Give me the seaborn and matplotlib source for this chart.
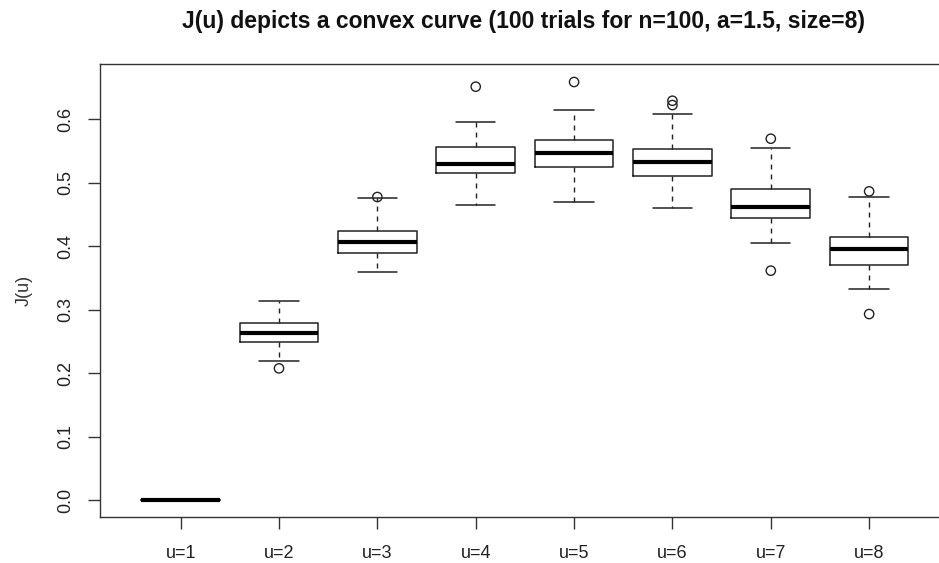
import numpy as np
import pandas as pd
import matplotlib
matplotlib.use("Agg")
import matplotlib.pyplot as plt
import seaborn as sns

# ---- data (box statistics per u) ----
categories = ["u=1", "u=2", "u=3", "u=4", "u=5", "u=6", "u=7", "u=8"]
whisker_lo = [0.0, 0.2189, 0.3596, 0.4651, 0.4688, 0.4598, 0.4047, 0.3323]
q1         = [0.0, 0.2493, 0.3895, 0.5144, 0.5239, 0.5108, 0.4446, 0.3706]
median     = [0.0, 0.2625, 0.4063, 0.5296, 0.5470, 0.5318, 0.4614, 0.3953]
q3         = [0.0, 0.2782, 0.4236, 0.5559, 0.5675, 0.5522, 0.4903, 0.4142]
whisker_hi = [0.0, 0.3139, 0.4751, 0.5958, 0.6147, 0.6073, 0.5538, 0.4772]
outliers = {
    "u=1": [],
    "u=2": [0.2074],
    "u=3": [0.4772],
    "u=4": [0.6509],
    "u=5": [0.6583],
    "u=6": [0.6288, 0.6220],
    "u=7": [0.5690, 0.3612],
    "u=8": [0.4861, 0.2929],
}
yticks = [0.0, 0.1, 0.2, 0.3, 0.4, 0.5, 0.6]

sns.set_style("white")
plt.rcParams["font.family"] = ["Liberation Sans", "DejaVu Sans"]

fig = plt.figure(figsize=(9.39, 5.63), dpi=100)
ax = fig.add_axes([0.1065, 0.082, 0.905, 0.8036])

positions = np.arange(1, len(categories) + 1)
stats = []
for i, c in enumerate(categories):
    stats.append(dict(label=c, whislo=whisker_lo[i], q1=q1[i], med=median[i],
                      q3=q3[i], whishi=whisker_hi[i], fliers=[]))

ax.bxp(stats, positions=positions, widths=0.8, showfliers=False,
       boxprops=dict(color="#222222", linewidth=1.1),
       medianprops=dict(color="black", linewidth=3.0, solid_capstyle="butt"),
       whiskerprops=dict(color="#222222", linewidth=1.0, linestyle=(0, (3.6, 3.6))),
       capprops=dict(color="#222222", linewidth=1.1),
       capwidths=0.4)

# outliers drawn with seaborn
rows = []
for i, c in enumerate(categories):
    for v in outliers[c]:
        rows.append({"pos": positions[i], "J": v})
odf = pd.DataFrame(rows)
sns.scatterplot(data=odf, x="pos", y="J", ax=ax, marker="o", s=45,
                facecolor="none", edgecolor="#222222", linewidth=1.0, zorder=5)

ax.set_xlim(0.18, 8.82)
ax.set_ylim(-0.0264, 0.686)
ax.set_xticks(positions)
ax.set_xticklabels(categories)
ax.set_yticks(yticks)
ax.set_yticklabels([f"{t:.1f}" for t in yticks], rotation=90, va="center")
ax.tick_params(axis="both", direction="out", length=8.5, width=1, color="#333333",
               labelsize=13, labelcolor="#222222", bottom=True, left=True)
ax.tick_params(axis="x", pad=12)
ax.tick_params(axis="y", pad=10)
ax.set_xlabel("")
ax.set_ylabel("J(u)", fontsize=13, color="#333333", labelpad=18)
for s in ax.spines.values():
    s.set_color("#333333")
    s.set_linewidth(1.0)
    s.set_visible(True)

fig.text(0.558, 0.962, "J(u) depicts a convex curve (100 trials for n=100, a=1.5, size=8)",
         ha="center", va="center", fontsize=16.5, fontweight="bold", color="#111111")

fig.savefig("out.png", dpi=100)
